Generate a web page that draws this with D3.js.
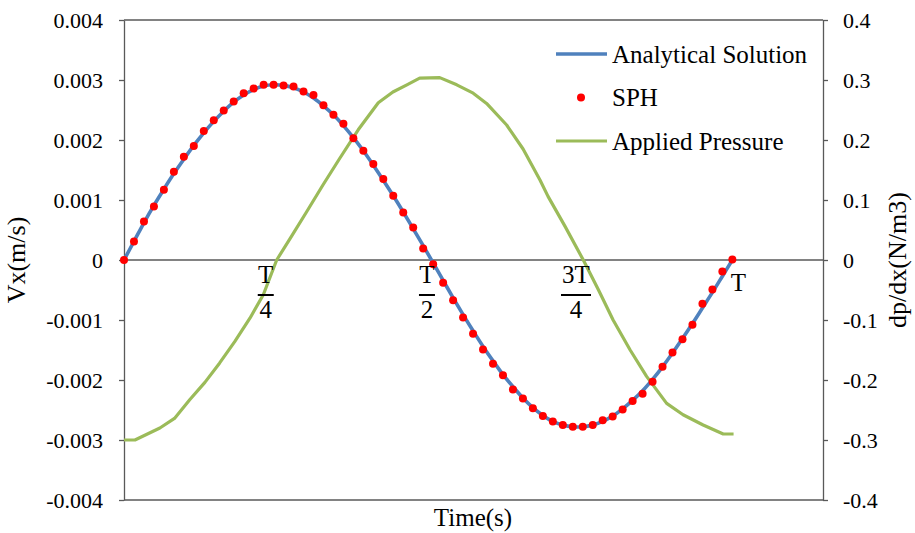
<!DOCTYPE html>
<html><head><meta charset="utf-8">
<script src="https://cdn.jsdelivr.net/npm/d3@7"></script>
<style>
html,body{margin:0;padding:0;background:#fff;}
svg{display:block;}
svg text{font-family:"Liberation Serif","Times New Roman","Tinos","DejaVu Serif",serif !important;fill:#000;}
</style></head>
<body>
<svg id="chart" width="915" height="533"></svg>
<script>
// ---- data (time as fraction of period T) ----
const sphTime = d3.range(62).map(i => i / 61);
const sphVx = [0, 0.31, 0.64, 0.89, 1.17, 1.47, 1.72, 1.90, 2.15, 2.33,
  2.49, 2.64, 2.78, 2.86, 2.92, 2.92, 2.91, 2.89, 2.81, 2.75,
  2.58, 2.42, 2.27, 2.03, 1.82, 1.60, 1.35, 1.07, 0.79, 0.54,
  0.19, -0.07, -0.38, -0.67, -0.96, -1.23, -1.49, -1.73, -1.92, -2.16,
  -2.31, -2.47, -2.60, -2.69, -2.75, -2.78, -2.78, -2.75, -2.67, -2.61,
  -2.49, -2.35, -2.23, -2.03, -1.78, -1.54, -1.32, -1.08, -0.73, -0.49,
  -0.19, 0.01].map(v => v / 1000);
const analyticalVx = [0, 0.31, 0.62, 0.91, 1.18, 1.44, 1.68, 1.91, 2.12, 2.31,
  2.48, 2.63, 2.75, 2.84, 2.90, 2.92, 2.91, 2.87, 2.80, 2.70,
  2.57, 2.42, 2.24, 2.04, 1.82, 1.58, 1.33, 1.07, 0.80, 0.52,
  0.24, -0.05, -0.34, -0.63, -0.91, -1.18, -1.44, -1.68, -1.91, -2.11,
  -2.30, -2.46, -2.59, -2.69, -2.75, -2.78, -2.78, -2.75, -2.69, -2.60,
  -2.48, -2.34, -2.18, -1.99, -1.78, -1.55, -1.31, -1.06, -0.80, -0.54,
  -0.27, 0.0].map(v => v / 1000);
const pressureTime = [0, 0.018, 0.059, 0.083, 0.108, 0.133, 0.157, 0.182, 0.207, 0.229,
  0.251, 0.275, 0.300, 0.327, 0.355, 0.385, 0.418, 0.442, 0.465, 0.486,
  0.519, 0.547, 0.574, 0.596, 0.629, 0.656, 0.684, 0.697, 0.725, 0.755,
  0.780, 0.804, 0.832, 0.859, 0.892, 0.919, 0.952, 0.985, 1.002];
const pressure = [-0.300, -0.300, -0.280, -0.264, -0.233, -0.204, -0.172, -0.136, -0.097, -0.058,
  0.000, 0.039, 0.080, 0.125, 0.170, 0.217, 0.262, 0.280, 0.292, 0.303,
  0.304, 0.292, 0.278, 0.261, 0.225, 0.185, 0.133, 0.106, 0.056, 0.000,
  -0.050, -0.100, -0.150, -0.194, -0.239, -0.258, -0.275, -0.290, -0.290];
const leftTicks = [-0.004, -0.003, -0.002, -0.001, 0, 0.001, 0.002, 0.003, 0.004];
const leftTickLabels = ["-0.004", "-0.003", "-0.002", "-0.001", "0", "0.001", "0.002", "0.003", "0.004"];
const rightTicks = [-0.4, -0.3, -0.2, -0.1, 0, 0.1, 0.2, 0.3, 0.4];
const rightTickLabels = ["-0.4", "-0.3", "-0.2", "-0.1", "0", "0.1", "0.2", "0.3", "0.4"];
const periodLabels = [
  {num: "T", den: "4", t: 0.233},
  {num: "T", den: "2", t: 0.498},
  {num: "3T", den: "4", t: 0.743},
  {num: "T", den: null, t: 1.01}
];
const legendItems = ["Analytical Solution", "SPH", "Applied Pressure"];

// ---- layout ----
const svg = d3.select("#chart");
const L = 124, R = 823, T = 20, B = 500;
const x = d3.scaleLinear().domain([0, 1.149]).range([L, R]);
const yL = d3.scaleLinear().domain([-0.004, 0.004]).range([B, T]);
const yR = d3.scaleLinear().domain([-0.4, 0.4]).range([B, T]);
const axisColor = "#595959";
const blue = "#4F81BD", red = "#FF0000", green = "#9BBB59";
const FS = 22, FL = 25, FT = 26;

svg.append("line").attr("x1", L).attr("x2", R).attr("y1", T).attr("y2", T)
  .attr("stroke", axisColor).attr("stroke-width", 1.3);
svg.append("line").attr("x1", L).attr("x2", R).attr("y1", B).attr("y2", B)
  .attr("stroke", axisColor).attr("stroke-width", 1.3);
svg.append("line").attr("x1", L).attr("x2", R).attr("y1", yL(0)).attr("y2", yL(0))
  .attr("stroke", axisColor).attr("stroke-width", 1.3);

const gL = svg.append("g").attr("transform", `translate(${L},0)`)
  .call(d3.axisLeft(yL).tickValues(leftTicks).tickSizeInner(5).tickSizeOuter(0).tickPadding(16)
    .tickFormat((d, i) => leftTickLabels[i]));
const gR = svg.append("g").attr("transform", `translate(${R},0)`)
  .call(d3.axisRight(yR).tickValues(rightTicks).tickSizeInner(5).tickSizeOuter(0).tickPadding(15)
    .tickFormat((d, i) => rightTickLabels[i]));
[gL, gR].forEach(g => {
  g.attr("font-family", null).attr("font-size", null);
  g.select(".domain").attr("stroke", axisColor).attr("stroke-width", 1.3);
  g.selectAll(".tick line").attr("stroke", axisColor).attr("stroke-width", 1.3);
  g.selectAll(".tick text").attr("font-size", FS).attr("fill", "#000");
});

svg.append("text").attr("transform", `translate(25,${yL(0)}) rotate(-90)`)
  .attr("text-anchor", "middle").attr("font-size", FT).text("Vx(m/s)");
svg.append("text").attr("transform", `translate(906,${yL(0)}) rotate(-90)`)
  .attr("text-anchor", "middle").attr("font-size", FT).text("dp/dx(N/m3)");
svg.append("text").attr("x", 473).attr("y", 526)
  .attr("text-anchor", "middle").attr("font-size", FL).text("Time(s)");

svg.append("path").datum(pressureTime.map((t, i) => [t, pressure[i]]))
  .attr("fill", "none").attr("stroke", green).attr("stroke-width", 3.2)
  .attr("stroke-linejoin", "round")
  .attr("d", d3.line().x(d => x(d[0])).y(d => yR(d[1])));

svg.append("path").datum(sphTime.map((t, i) => [t, analyticalVx[i]]))
  .attr("fill", "none").attr("stroke", blue).attr("stroke-width", 3.6)
  .attr("d", d3.line().curve(d3.curveCatmullRom).x(d => x(d[0])).y(d => yL(d[1])));

svg.append("g").selectAll("circle").data(sphTime.map((t, i) => [t, sphVx[i]]))
  .join("circle").attr("cx", d => x(d[0])).attr("cy", d => yL(d[1]))
  .attr("r", 4).attr("fill", red);

const pl = svg.append("g").selectAll("g").data(periodLabels).join("g")
  .attr("transform", d => `translate(${x(d.t)},0)`);
pl.append("text").attr("text-anchor", "middle").attr("font-size", 25)
  .attr("y", d => d.den ? 283 : 291).text(d => d.num);
pl.filter(d => d.den).append("line")
  .attr("x1", d => d.num.length > 1 ? -15 : -8).attr("x2", d => d.num.length > 1 ? 15 : 8)
  .attr("y1", 295).attr("y2", 295).attr("stroke", "#000").attr("stroke-width", 2);
pl.filter(d => d.den).append("text").attr("text-anchor", "middle").attr("font-size", 25)
  .attr("y", 318).text(d => d.den);

const lg = svg.append("g").selectAll("g").data(legendItems).join("g")
  .attr("transform", (d, i) => `translate(556,${54 + i * 43.5})`);
lg.each(function(d, i) {
  const g = d3.select(this);
  if (i === 1) {
    g.append("circle").attr("cx", 25).attr("cy", 0).attr("r", 4).attr("fill", red);
  } else {
    g.append("line").attr("x1", 0).attr("x2", 51).attr("y1", 0).attr("y2", 0)
      .attr("stroke", i === 0 ? blue : green).attr("stroke-width", i === 0 ? 3.6 : 3.2);
  }
  g.append("text").attr("x", 56).attr("y", 0).attr("dy", "0.35em")
    .attr("font-size", FL).text(d);
});
</script>
</body></html>
